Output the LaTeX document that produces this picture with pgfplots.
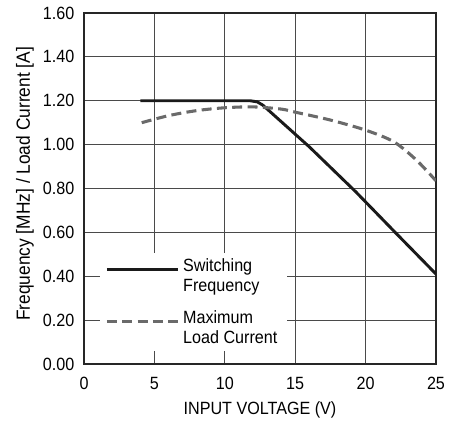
\documentclass[border=0pt]{standalone}
\usepackage{pgfplots}
\pgfplotsset{compat=1.18}
\usepackage{fontspec}
\setmainfont{Liberation Sans}[FakeStretch=0.91]
\definecolor{gridc}{HTML}{4A4A4A}
\definecolor{dashc}{HTML}{6A6A6A}
\definecolor{solidc}{HTML}{1A1A1A}
\begin{document}
\begin{tikzpicture}
\begin{axis}[
  scale only axis,
  width=264pt, height=263.25pt,
  xmin=0, xmax=25, ymin=0, ymax=1.6,
  xtick={0,5,10,15,20,25},
  ytick={0,0.2,0.4,0.6,0.8,1.0,1.2,1.4,1.6},
  grid=major,
  major grid style={draw=gridc, line width=0.65pt},
  axis line style={draw=black!85, line width=1.1pt},
  major tick length=0pt,
  font=\fontsize{13.3}{15}\selectfont,
  /pgf/number format/assume math mode=true,
  yticklabel style={/pgf/number format/.cd, fixed, fixed zerofill, precision=2, /tikz/.cd, inner sep=0pt, xshift=-7pt},
  xticklabel style={inner sep=0pt, yshift=-9.5pt},
  xlabel={INPUT VOLTAGE (V)},
  ylabel={Frequency [MHz] / Load Current [A]},
  xlabel style={at={(axis description cs:0.5,-0.131)}, anchor=center},
  ylabel style={at={(axis description cs:-0.168,0.513)}, anchor=center, font=\fontsize{14.3}{16}\selectfont},
  legend style={at={(rel axis cs:0.045,0.037)}, anchor=south west, fill=white, draw=none,
    inner xsep=4pt, inner ysep=3pt, row sep=11pt, column sep=0pt,
    nodes={align=left, inner xsep=3pt, inner ysep=1pt, font=\fontsize{13.3}{15}\selectfont}},
  legend cell align=left,
  legend image code/.code={\draw[#1] (0pt,4.7pt) -- (53pt,4.7pt);},
]
\coordinate (sw) at (rel axis cs:0,0);
\coordinate (ne) at (rel axis cs:1,1);
\addplot[solidc, line width=2.2pt] coordinates {
 (4,1.20) (11.8,1.20) (12.3,1.195) (12.7,1.18) (16,0.99) (19.3,0.785) (22.1,0.6) (25,0.41)
};
\addlegendentry{Switching\\Frequency}
\addplot[dashc, line width=2.3pt, dash pattern=on 7.5pt off 4pt, smooth] coordinates {
 (4.1,1.10) (6,1.132) (8,1.155) (10,1.168) (12,1.172) (14,1.162) (15,1.148) (17.5,1.112) (20,1.066) (22,1.013) (23.6,0.93) (25,0.835)
};
\addlegendentry{Maximum\\Load Current}
\end{axis}
\pgfresetboundingbox
\path[use as bounding box] ([shift={(-63pt,-45pt)}]sw) rectangle ([shift={(16.5pt,9.75pt)}]ne);
\end{tikzpicture}
\end{document}
